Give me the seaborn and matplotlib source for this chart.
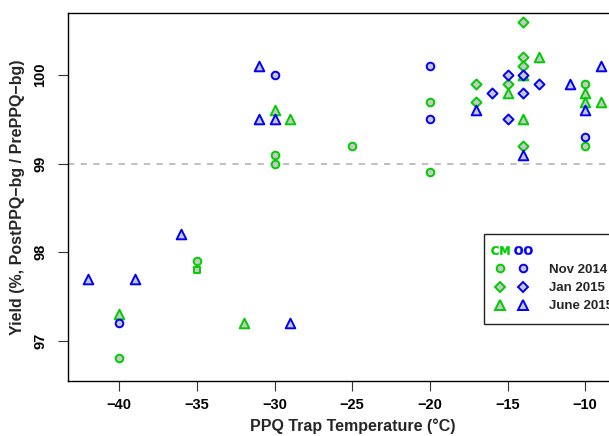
import numpy as np
import pandas as pd
import matplotlib.pyplot as plt
import seaborn as sns
from matplotlib.lines import Line2D
from matplotlib.legend_handler import HandlerTuple

sns.set_theme(style="ticks")
plt.rcParams["font.family"] = ["Liberation Sans", "DejaVu Sans"]
plt.rcParams["font.weight"] = "bold"

#%% DATA
# CM samples
cm_nov_t = [-40, -35, -30, -30, -25, -20, -20, -10, -10]
cm_nov_y = [96.8, 97.9, 99.1, 99.0, 99.2, 99.7, 98.9, 99.9, 99.2]
cm_jan_t = [-17, -17, -15, -14, -14, -14, -14]
cm_jan_y = [99.9, 99.7, 99.9, 100.6, 100.2, 100.1, 99.2]
cm_jun_t = [-40, -32, -30, -29, -15, -14, -14, -13, -10, -10, -9]
cm_jun_y = [97.3, 97.2, 99.6, 99.5, 99.8, 100.0, 99.5, 100.2, 99.8, 99.7, 99.7]
cm_sq_t = [-35]
cm_sq_y = [97.8]
# OO samples
oo_nov_t = [-40, -30, -20, -20, -10]
oo_nov_y = [97.2, 100.0, 100.1, 99.5, 99.3]
oo_jan_t = [-16, -15, -15, -14, -14, -13]
oo_jan_y = [99.8, 100.0, 99.5, 100.0, 99.8, 99.9]
oo_jun_t = [-42, -39, -36, -31, -31, -30, -29, -17, -14, -11, -10, -9]
oo_jun_y = [97.7, 97.7, 98.2, 100.1, 99.5, 99.5, 97.2, 99.6, 99.1, 99.9, 99.6, 100.1]

dates = ['Nov 2014', 'Jan 2015', 'June 2015']
colors = {'CM': '#00CD00', 'OO': '#0000FF'}
markers = {'Nov 2014': 'o', 'Jan 2015': 'D', 'June 2015': '^', 'other': 's'}
sizes = {'Nov 2014': 30, 'Jan 2015': 26, 'June 2015': 48, 'other': 24}
face = '#C8C8C8'

rows = []
for sample, date, ts, ys in [('CM', 'Nov 2014', cm_nov_t, cm_nov_y),
                             ('CM', 'Jan 2015', cm_jan_t, cm_jan_y),
                             ('CM', 'June 2015', cm_jun_t, cm_jun_y),
                             ('CM', 'other', cm_sq_t, cm_sq_y),
                             ('OO', 'Nov 2014', oo_nov_t, oo_nov_y),
                             ('OO', 'Jan 2015', oo_jan_t, oo_jan_y),
                             ('OO', 'June 2015', oo_jun_t, oo_jun_y)]:
    for t, y in zip(ts, ys):
        rows.append({'sample': sample, 'date': date, 'temp': t, 'yield': y})
df = pd.DataFrame(rows)

#%% PLOT
fig = plt.figure(figsize=(6.09, 4.36), dpi=100)
ax = fig.add_axes([0.1122, 0.1261, 0.9344, 0.8448])

ax.axhline(99, color='#BBBBBB', lw=1.3, ls=(0, (3.5, 3.5)), zorder=1)

for (sample, date), sub in df.groupby(['sample', 'date'], sort=False):
    sns.scatterplot(data=sub, x='temp', y='yield', marker=markers[date], s=sizes[date],
                    color=face, edgecolor=colors[sample], linewidth=1.4, ax=ax, zorder=3)

ax.set_xlim(-43.28, -6.64)
ax.set_ylim(96.545, 100.703)
ax.set_xticks([-40, -35, -30, -25, -20, -15, -10])
ax.set_yticks([97, 98, 99, 100])
ax.set_xticklabels([f'\u2212{abs(v)}' for v in [-40, -35, -30, -25, -20, -15, -10]])
for sp in ax.spines.values():
    sp.set_color('black')
    sp.set_linewidth(1.0)
ax.tick_params(axis='both', direction='out', length=7, width=0.8, color='#333333',
               labelsize=10.5, colors='black')
ax.tick_params(axis='x', pad=5)
ax.tick_params(axis='y', pad=8, labelrotation=90)
for lab in ax.get_yticklabels():
    lab.set_va('center')

ax.set_xlabel('PPQ Trap Temperature (\u00b0C)', fontsize=11.5, fontweight='bold', labelpad=5)
ax.set_ylabel('Yield (%, PostPPQ\u2212bg / PrePPQ\u2212bg)', fontsize=11.5, fontweight='bold', labelpad=6)

# legend: header row, then one row per date with CM and OO markers side by side
header = (Line2D([], [], marker=r'$\mathbf{CM}$', color=colors['CM'], ls='none',
                 markersize=13, markeredgewidth=0.3),
          Line2D([], [], marker=r'$\mathbf{OO}$', color=colors['OO'], ls='none',
                 markersize=13, markeredgewidth=0.3))
handles = [header]
for d in dates:
    ms = np.sqrt(sizes[d])
    handles.append(tuple(Line2D([], [], marker=markers[d], ls='none', markersize=ms,
                                markerfacecolor=face, markeredgecolor=colors[s], markeredgewidth=1.4)
                         for s in ['CM', 'OO']))
leg = ax.legend(handles, [''] + dates, handler_map={tuple: HandlerTuple(ndivide=None, pad=1.0)},
                loc='upper left', bbox_to_anchor=(0.7305, 0.398), borderaxespad=0,
                fancybox=False, framealpha=1, edgecolor='#222222', fontsize=9.5,
                handlelength=2.5, handletextpad=1.6, borderpad=0.85, labelspacing=0.45)
leg.get_frame().set_linewidth(1.0)
for txt in leg.get_texts():
    txt.set_fontweight('bold')

plt.savefig('out.png', dpi=100)
plt.close()
